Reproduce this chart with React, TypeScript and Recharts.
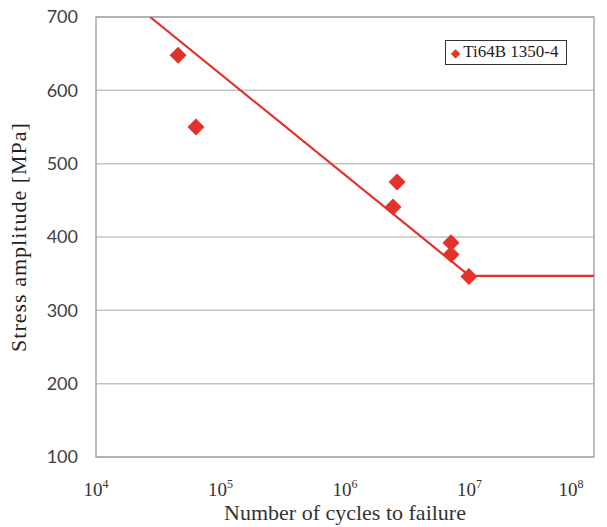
import {
  CartesianGrid,
  Legend,
  ReferenceArea,
  Scatter,
  ScatterChart,
  XAxis,
  YAxis,
} from "recharts";

const cycles = [45600, 63500, 2620000, 2430000, 7100000, 7100000, 9900000];
const stress = [648, 550, 475, 441, 392, 376, 346];

const fitCycles = [27200, 10000000, 100000000];
const fitStress = [700, 347, 347];

const xTicks = [1e4, 1e5, 1e6, 1e7, 1e8];
const xTickExp = ["4", "5", "6", "7", "8"];
const yTicks = [100, 200, 300, 400, 500, 600, 700];

const RED = "#e3322a";
const SERIF = "'Liberation Serif', 'DejaVu Serif', serif";

const points = cycles.map((c, i) => ({ x: c, y: stress[i] }));
const fit = fitCycles.map((c, i) => ({ x: c, y: fitStress[i] }));

function Diamond(props: any) {
  const { cx, cy } = props;
  if (cx == null || cy == null) return <g />;
  const r = 8.5;
  return (
    <path
      d={`M${cx},${cy - r} L${cx + r},${cy} L${cx},${cy + r} L${cx - r},${cy} Z`}
      fill={RED}
    />
  );
}

function XTick(props: any) {
  const { x, y, payload } = props;
  const i = xTicks.indexOf(payload.value);
  return (
    <text
      x={x}
      y={y + 37}
      textAnchor="middle"
      fontFamily={SERIF}
      fontSize={19}
      fill="#333"
    >
      10
      <tspan dy={-8} fontSize={12}>
        {xTickExp[i]}
      </tspan>
    </text>
  );
}

function LegendBox() {
  return (
    <div
      style={{
        border: "1.5px solid #333",
        padding: "1px 7px 1px 5px",
        fontFamily: SERIF,
        fontSize: 17,
        lineHeight: "20px",
        color: "#222",
        background: "#fff",
        whiteSpace: "nowrap",
      }}
    >
      <span style={{ color: RED, fontSize: 12, marginRight: 3 }}>◆</span>
      Ti64B 1350-4
    </div>
  );
}

export default function App() {
  return (
    <div style={{ position: "absolute", left: 0, top: 0, background: "#fff" }}>
      <ScatterChart
        width={607}
        height={527}
        margin={{ top: 17, right: 13, bottom: 0, left: 0 }}
      >
        <CartesianGrid vertical={false} stroke="#c4c4c4" strokeWidth={1.5} />
        <XAxis
          type="number"
          dataKey="x"
          scale="log"
          domain={[1e4, 1e8]}
          ticks={xTicks}
          allowDataOverflow
          axisLine={false}
          tickLine={false}
          tickSize={0}
          height={70}
          tick={<XTick />}
          label={{
            value: "Number of cycles to failure",
            position: "insideBottom",
            offset: 7,
            fontFamily: SERIF,
            fontSize: 22,
            fill: "#333",
          }}
        />
        <YAxis
          type="number"
          dataKey="y"
          domain={[100, 700]}
          ticks={yTicks}
          allowDataOverflow
          axisLine={false}
          tickLine={false}
          tickSize={0}
          tickMargin={18}
          width={96}
          tick={{ fontFamily: "Lato, sans-serif", fontSize: 18, fill: "#404040" }}
          label={{
            value: "Stress amplitude  [MPa]",
            angle: -90,
            position: "insideLeft",
            offset: 18,
            style: { textAnchor: "middle", letterSpacing: 1 },
            fontFamily: SERIF,
            fontSize: 22,
            fill: "#222",
          }}
        />
        <ReferenceArea
          x1={1e4}
          x2={1e8}
          y1={100}
          y2={700}
          fill="none"
          stroke="#a8a8a8"
          strokeWidth={1.5}
          ifOverflow="visible"
        />
        <Scatter
          data={fit}
          line={{ stroke: RED, strokeWidth: 2.2 }}
          lineType="joint"
          shape={() => <g />}
          legendType="none"
          isAnimationActive={false}
        />
        <Scatter
          data={points}
          shape={<Diamond />}
          isAnimationActive={false}
        />
        <Legend
          layout="horizontal"
          verticalAlign="middle"
          align="center"
          content={<LegendBox />}
          wrapperStyle={{ position: "absolute", top: 40, left: 445, width: "auto" }}
        />
      </ScatterChart>
    </div>
  );
}
